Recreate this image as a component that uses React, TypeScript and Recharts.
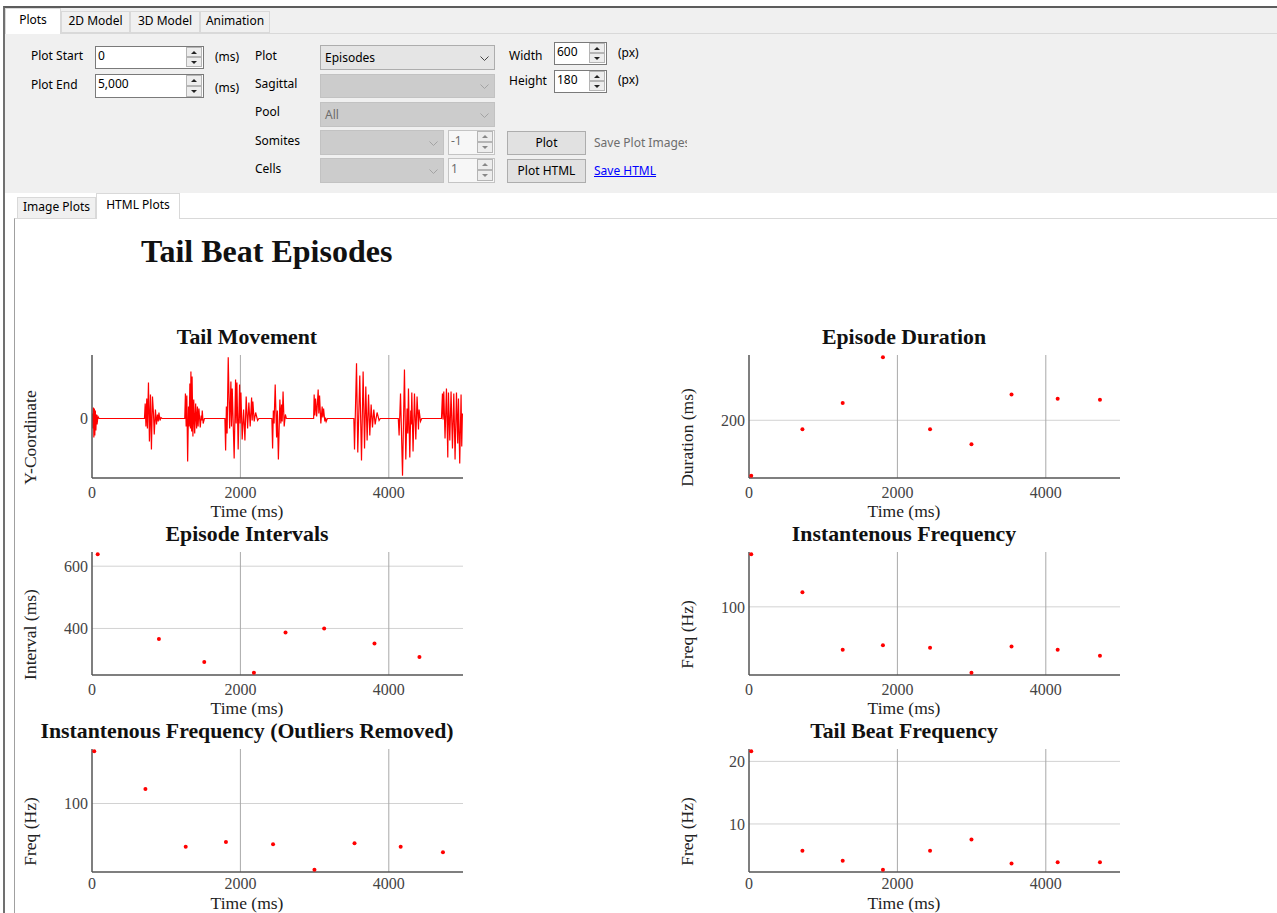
import React from 'react';
import {
  Label,
  Line,
  LineChart,
  ReferenceLine,
  Scatter,
  ScatterChart,
  XAxis,
  YAxis,
} from 'recharts';

type Pair = [number, number];

const SERIF = "'Liberation Serif', 'Times New Roman', serif";
const UI_FONT = "'Segoe UI', 'Noto Sans', 'Open Sans', sans-serif";

// shared time axis
const timeTicks = [0, 2000, 4000];
const timeRange: [number, number] = [0, 5000];

// tail tip y-coordinate through each swimming episode, [time (ms), y]
const tailEpisode1: Pair[] = [[0, 0], [6, 0.5], [12, -1.0], [18, 1.1], [25, -1.9], [32, 1.0], [38, -1.7], [45, 0.8], [52, -1.2], [60, 0.4], [68, -0.6], [80, 0.2], [95, 0]];
const tailEpisode2: Pair[] = [[707, 0], [717, 1.5], [727, -0.8], [738, 2.0], [747, -1.0], [761, 3.6], [774, -2.3], [788, 2.4], [801, -3.1], [815, 2.2], [828, 0.6], [839, -1.6], [855, 0.9], [869, -0.6], [882, 0.4], [893, -0.3], [902, 0.6], [916, -0.2], [929, 0.1], [943, 0]];
const tailEpisode3: Pair[] = [[1250, 0], [1259, 2.5], [1269, -0.8], [1278, 2.3], [1289, -4.3], [1301, 1.2], [1309, -0.8], [1319, 3.5], [1327, -1.0], [1333, 4.7], [1343, -1.3], [1349, 4.2], [1360, -1.8], [1371, 1.9], [1384, -1.5], [1397, 1.5], [1410, -1.0], [1421, 1.2], [1430, -0.8], [1441, 1.0], [1459, -0.9], [1472, 0.3], [1479, -0.2], [1486, 0.8], [1498, -0.5], [1515, 0]];
const tailEpisode4: Pair[] = [[1791, 0], [1801, -3.2], [1811, 1.2], [1821, -1.5], [1836, 6.1], [1855, -1.0], [1872, 3.7], [1880, -0.8], [1890, 3.0], [1916, -4.0], [1935, 3.9], [1943, -0.5], [1953, 3.6], [1970, -3.1], [1989, 3.4], [1997, -0.5], [2007, 2.6], [2024, -2.1], [2043, 0.9], [2061, -2.2], [2078, 2.2], [2097, -1.0], [2114, 1.6], [2132, -0.8], [2151, 2.1], [2159, -0.2], [2168, 1.7], [2186, -0.3], [2205, 0.6], [2232, -0.2], [2249, 0]];
const tailEpisode5: Pair[] = [[2424, 0], [2434, -3.0], [2444, 0.8], [2454, -0.5], [2469, 3.4], [2488, -1.9], [2498, 0.8], [2512, -4.1], [2532, 1.9], [2545, -0.5], [2555, 1.4], [2563, -0.3], [2575, 2.7], [2590, -0.8], [2606, 0.4], [2619, 0]];
const tailEpisode6: Pair[] = [[2987, 0], [2994, 2.4], [3003, 0.3], [3013, 2.0], [3028, 0.2], [3048, 2.9], [3057, 0.5], [3067, 2.3], [3084, -0.5], [3102, 1.2], [3111, 0.1], [3121, 1.0], [3138, -0.3], [3147, 0.1], [3156, -0.3], [3172, 0]];
const tailEpisode7: Pair[] = [[3529, 0], [3538, -3.1], [3565, 5.5], [3582, -3.4], [3609, 4.3], [3632, -4.2], [3654, 4.7], [3673, -3.0], [3690, 3.2], [3708, -2.2], [3727, 2.4], [3744, -1.7], [3762, 1.4], [3780, -0.9], [3798, 0.9], [3816, -0.6], [3842, 0.6], [3869, -0.2], [3885, 0]];
const tailEpisode8: Pair[] = [[4128, 0], [4139, -1.7], [4158, 2.5], [4185, -5.7], [4211, 4.9], [4229, -4.1], [4246, 1.0], [4256, -1.5], [4265, 3.0], [4283, -3.9], [4296, 0.8], [4302, -0.6], [4310, 2.6], [4327, -3.3], [4346, 2.5], [4364, -2.1], [4381, 2.2], [4400, -1.1], [4408, 0.9], [4427, -0.3], [4444, 0]];
const tailEpisode9: Pair[] = [[4710, 0], [4723, 2.5], [4731, -0.1], [4741, 2.7], [4758, -2.0], [4777, 3.0], [4795, -3.9], [4804, 2.6], [4822, -2.2], [4839, 2.7], [4858, -3.0], [4876, 2.5], [4893, -4.1], [4912, 2.6], [4929, -2.5], [4939, 2.0], [4956, -4.5], [4974, 2.4], [4983, -2.8], [4992, 0.5]];
const tailEpisodes = [tailEpisode1, tailEpisode2, tailEpisode3, tailEpisode4, tailEpisode5, tailEpisode6, tailEpisode7, tailEpisode8, tailEpisode9];

// per-episode measurements
const episodeStart = [30, 720, 1263, 1805, 2440, 2998, 3538, 4160, 4730];
const episodeDuration = [46, 175, 248, 375, 175, 133, 272, 260, 257];
const intervalTime = [77, 902, 1513, 2182, 2608, 3129, 3807, 4413];
const intervalLength = [638, 366, 292, 258, 387, 400, 352, 308];
const instFrequency = [172.5, 120.1, 40.7, 47.1, 43.5, 9.1, 45.3, 40.7, 32.5];
const instFrequencyFiltered = [172.1, 120.1, 40.2, 46.7, 43.5, 8.5, 44.9, 40.2, 32.5];
const tailBeatFrequency = [21.6, 5.7, 4.1, 2.7, 5.7, 7.5, 3.7, 3.9, 3.9];

// y tick values per plot
const tailTicks = [0];
const durationTicks = [200];
const intervalTicks = [400, 600];
const freqTicks = [100];
const beatTicks = [10, 20];

const tailData = tailEpisodes.flat().map(([t, y]) => ({ x: t, y }));
const toPoints = (xs: number[], ys: number[]) => xs.map((x, i) => ({ x, y: ys[i] }));

// auto range: data extent plus 2% each side
function padded(values: number[]): [number, number] {
  const lo = Math.min(...values);
  const hi = Math.max(...values);
  const pad = (hi - lo) * 0.02;
  return [lo - pad, hi + pad];
}

// layout of the 2x3 plot grid
const COL_LEFT = [16, 673];
const ROW_TOP = [355, 552, 749];
const BLOCK_W = 462;
const Y_AXIS_W = 76;
const PLOT_H = 123;
const X_AXIS_H = 44;
const MARGIN = { top: 5, right: 15, bottom: 0, left: 0 };
const CHART_H = MARGIN.top + PLOT_H + X_AXIS_H;

const tickStyle = { fill: '#444', fontSize: 16, fontFamily: SERIF };
const axisLine = { stroke: '#555', strokeWidth: 1.5 };

const xTitle = (offset: number) => (props: any) => {
  const vb = props.viewBox || {};
  const y = (vb.y ?? MARGIN.top + PLOT_H) + offset;
  return (
    <text x={BLOCK_W / 2} y={y} textAnchor="middle" dominantBaseline="central" fill="#222" fontSize={17.5} fontFamily={SERIF}>
      Time (ms)
    </text>
  );
};

const yTitle = (text: string) => (props: any) => {
  const vb = props.viewBox || {};
  const cx = 14;
  const cy = (vb.y ?? MARGIN.top) + (vb.height ?? PLOT_H) / 2 + 21;
  return (
    <text x={cx} y={cy} transform={`rotate(-90 ${cx} ${cy})`} textAnchor="middle" dominantBaseline="central" fill="#222" fontSize={17.5} fontFamily={SERIF}>
      {text}
    </text>
  );
};

const redDot = (p: any) => <circle cx={p.cx} cy={p.cy} r={2} fill="#ff0000" />;

type PanelProps = {
  col: number;
  row: number;
  title: string;
  yLabel: string;
  yTicks: number[];
  yDomain: [number, number];
  data: { x: number; y: number }[];
  line?: boolean;
};

function Panel({ col, row, title, yLabel, yTicks, yDomain, data, line }: PanelProps) {
  const left = COL_LEFT[col];
  const plotTop = ROW_TOP[row];
  const Chart: any = line ? LineChart : ScatterChart;
  // the trace itself sits on the zero line of the tail plot
  const rowLines = line ? [] : yTicks;
  // bottom row runs out of page, so its axis text sits a little tighter
  const lastRow = row === 2;
  return (
    <>
      <div
        style={{
          position: 'absolute', left, top: plotTop - 31, width: BLOCK_W, lineHeight: '26px',
          textAlign: 'center', fontFamily: SERIF, fontWeight: 'bold', fontSize: 21.8, color: '#111',
        }}
      >
        {title}
      </div>
      <div style={{ position: 'absolute', left, top: plotTop - MARGIN.top }}>
        <Chart width={BLOCK_W} height={CHART_H} margin={MARGIN} data={line ? data : undefined}>
          <XAxis
            type="number" dataKey="x" domain={timeRange} ticks={timeTicks} allowDataOverflow
            height={X_AXIS_H} tickSize={0} tickMargin={lastRow ? 6 : 9} axisLine={axisLine} tickLine={false} tick={tickStyle}
          >
            <Label content={xTitle(lastRow ? 31 : 33)} />
          </XAxis>
          <YAxis
            type="number" dataKey="y" domain={yDomain} ticks={yTicks} allowDataOverflow
            width={Y_AXIS_W} tickSize={0} tickMargin={4} axisLine={axisLine} tickLine={false} tick={tickStyle}
          >
            <Label content={yTitle(yLabel)} />
          </YAxis>
          {rowLines.map((v) => (
            <ReferenceLine key={`h${v}`} y={v} stroke="#d2d2d2" strokeWidth={1} />
          ))}
          {timeTicks.filter((t) => t > 0).map((t) => (
            <ReferenceLine key={`v${t}`} x={t} stroke="#a9a9a9" strokeWidth={1} />
          ))}
          {line ? (
            <Line dataKey="y" type="linear" stroke="#ff0000" strokeWidth={1.2} dot={false} isAnimationActive={false} />
          ) : (
            <Scatter data={data} shape={redDot} isAnimationActive={false} />
          )}
        </Chart>
      </div>
    </>
  );
}

// ---- window chrome ----

const uiText: React.CSSProperties = { fontFamily: UI_FONT, fontSize: 12, color: '#000', whiteSpace: 'nowrap' };

function Text({ x, y, children, color, style }: { x: number; y: number; children: React.ReactNode; color?: string; style?: React.CSSProperties }) {
  return (
    <div style={{ position: 'absolute', left: x, top: y - 8, lineHeight: '16px', ...uiText, color: color ?? '#000', ...style }}>
      {children}
    </div>
  );
}

function Arrow({ up, color = '#222' }: { up?: boolean; color?: string }) {
  const side = '3px solid transparent';
  return (
    <div
      style={{
        width: 0, height: 0, borderLeft: side, borderRight: side,
        ...(up ? { borderBottom: `3px solid ${color}` } : { borderTop: `3px solid ${color}` }),
      }}
    />
  );
}

function SpinBox({ x, y, w, h, value, dim }: { x: number; y: number; w: number; h: number; value: string; dim?: boolean }) {
  const half = Math.floor((h - 2) / 2);
  const btn: React.CSSProperties = {
    position: 'absolute', right: 1, width: 16, height: half, boxSizing: 'border-box',
    border: '1px solid #b5b5b5', background: '#ededed', display: 'flex', alignItems: 'center', justifyContent: 'center',
  };
  return (
    <div
      style={{
        position: 'absolute', left: x, top: y, width: w, height: h, boxSizing: 'border-box',
        border: `1px solid ${dim ? '#c4c4c4' : '#7a7a7a'}`, background: dim ? '#f7f7f7' : '#fff',
      }}
    >
      <div style={{ position: 'absolute', left: 2, top: 0, lineHeight: `${h - 6}px`, ...uiText, color: dim ? '#6d6d6d' : '#000' }}>{value}</div>
      <div style={{ ...btn, top: 0 }}><Arrow up color={dim ? '#888' : '#222'} /></div>
      <div style={{ ...btn, top: half }}><Arrow color={dim ? '#888' : '#222'} /></div>
    </div>
  );
}

function Combo({ x, y, w, h, value, dim }: { x: number; y: number; w: number; h: number; value?: string; dim?: boolean }) {
  return (
    <div
      style={{
        position: 'absolute', left: x, top: y, width: w, height: h, boxSizing: 'border-box',
        border: `1px solid ${dim ? '#c2c2c2' : '#adadad'}`, background: dim ? '#cccccc' : '#e5e5e5',
      }}
    >
      {value ? (
        <div style={{ position: 'absolute', left: 4, top: 0, lineHeight: `${h - 2}px`, ...uiText, color: dim ? '#6d6d6d' : '#000' }}>{value}</div>
      ) : null}
      <svg style={{ position: 'absolute', right: 5, top: (h - 2) / 2 - 2 }} width={9} height={6}>
        <polyline points="0.5,0.5 4.5,4.5 8.5,0.5" fill="none" stroke={dim ? '#a3a3a3' : '#444'} strokeWidth={1} />
      </svg>
    </div>
  );
}

function Button({ x, y, w, h, label }: { x: number; y: number; w: number; h: number; label: string }) {
  return (
    <div
      style={{
        position: 'absolute', left: x, top: y, width: w, height: h, boxSizing: 'border-box',
        border: '1px solid #adadad', background: '#e1e1e1', textAlign: 'center', lineHeight: `${h - 2}px`, ...uiText,
      }}
    >
      {label}
    </div>
  );
}

function Tab({ x, y, w, h, label, active }: { x: number; y: number; w: number; h: number; label: string; active?: boolean }) {
  return (
    <div
      style={{
        position: 'absolute', left: x, top: y, width: w, height: h, boxSizing: 'border-box',
        border: '1px solid #d9d9d9', borderBottom: active ? 'none' : '1px solid #d9d9d9',
        background: active ? '#ffffff' : '#f0f0f0', textAlign: 'center', lineHeight: `${h - 4}px`, ...uiText,
        zIndex: active ? 2 : 1,
      }}
    >
      {label}
    </div>
  );
}

export default function App() {
  return (
    <div style={{ position: 'fixed', left: 0, top: 0, width: 1277, height: 913, overflow: 'hidden', background: '#fff' }}>
      {/* window frame */}
      <div style={{ position: 'absolute', left: 3, top: 6, right: -2, bottom: -2, borderLeft: '2px solid #707070', borderTop: '2px solid #5c5c5c', background: '#fff' }} />

      {/* top tab strip */}
      <div style={{ position: 'absolute', left: 5, top: 8, right: 0, height: 25, background: '#f0f0f0' }} />
      <div style={{ position: 'absolute', left: 5, top: 33, right: 0, height: 160, background: '#f0f0f0', borderTop: '1px solid #d9d9d9', boxSizing: 'border-box' }} />
      <Tab x={5} y={8} w={56} h={26} label="Plots" active />
      <Tab x={61} y={11} w={69} h={22} label="2D Model" />
      <Tab x={130} y={11} w={70} h={22} label="3D Model" />
      <Tab x={200} y={11} w={70} h={22} label="Animation" />

      {/* plot settings */}
      <Text x={31} y={56}>Plot Start</Text>
      <SpinBox x={95} y={46} w={109} h={23} value="0" />
      <Text x={215} y={57}>(ms)</Text>
      <Text x={31} y={85}>Plot End</Text>
      <SpinBox x={95} y={74} w={109} h={24} value="5,000" />
      <Text x={215} y={88}>(ms)</Text>

      <Text x={255} y={56}>Plot</Text>
      <Combo x={320} y={45} w={175} h={25} value="Episodes" />
      <Text x={255} y={84}>Sagittal</Text>
      <Combo x={320} y={74} w={175} h={24} dim />
      <Text x={255} y={112}>Pool</Text>
      <Combo x={320} y={102} w={175} h={25} value="All" dim />
      <Text x={255} y={141}>Somites</Text>
      <Combo x={320} y={130} w={124} h={25} dim />
      <SpinBox x={448} y={130} w={47} h={25} value="-1" dim />
      <Text x={255} y={169}>Cells</Text>
      <Combo x={320} y={158} w={124} h={25} dim />
      <SpinBox x={448} y={158} w={47} h={25} value="1" dim />

      <Text x={509} y={56}>Width</Text>
      <SpinBox x={554} y={42} w={53} h={23} value="600" />
      <Text x={618} y={53}>(px)</Text>
      <Text x={509} y={81}>Height</Text>
      <SpinBox x={554} y={70} w={53} h={23} value="180" />
      <Text x={618} y={80}>(px)</Text>

      <Button x={507} y={131} w={79} h={24} label="Plot" />
      <Text x={594} y={143} color="#6d6d6d" style={{ width: 93, overflow: 'hidden' }}>Save Plot Images</Text>
      <Button x={507} y={159} w={79} h={24} label="Plot HTML" />
      <Text x={594} y={171} color="#0000ff" style={{ textDecoration: 'underline' }}>Save HTML</Text>

      {/* output tabs */}
      <Tab x={17} y={197} w={79} h={22} label="Image Plots" />
      <Tab x={96} y={193} w={84} h={26} label="HTML Plots" active />
      <div style={{ position: 'absolute', left: 14, top: 218, right: -2, bottom: -2, background: '#fff', borderTop: '1px solid #d9d9d9', borderLeft: '1px solid #a0a0a0' }} />

      {/* html output */}
      <div style={{ position: 'absolute', left: 141, top: 231, lineHeight: '40px', fontFamily: SERIF, fontWeight: 'bold', fontSize: 32, color: '#111', whiteSpace: 'nowrap' }}>
        Tail Beat Episodes
      </div>

      <Panel col={0} row={0} title="Tail Movement" yLabel="Y-Coordinate" yTicks={tailTicks} yDomain={padded(tailData.map((d) => d.y))} data={tailData} line />
      <Panel col={1} row={0} title="Episode Duration" yLabel="Duration (ms)" yTicks={durationTicks} yDomain={padded(episodeDuration)} data={toPoints(episodeStart, episodeDuration)} />
      <Panel col={0} row={1} title="Episode Intervals" yLabel="Interval (ms)" yTicks={intervalTicks} yDomain={padded(intervalLength)} data={toPoints(intervalTime, intervalLength)} />
      <Panel col={1} row={1} title="Instantenous Frequency" yLabel="Freq (Hz)" yTicks={freqTicks} yDomain={padded(instFrequency)} data={toPoints(episodeStart, instFrequency)} />
      <Panel col={0} row={2} title="Instantenous Frequency (Outliers Removed)" yLabel="Freq (Hz)" yTicks={freqTicks} yDomain={padded(instFrequencyFiltered)} data={toPoints(episodeStart, instFrequencyFiltered)} />
      <Panel col={1} row={2} title="Tail Beat Frequency" yLabel="Freq (Hz)" yTicks={beatTicks} yDomain={padded(tailBeatFrequency)} data={toPoints(episodeStart, tailBeatFrequency)} />
    </div>
  );
}
